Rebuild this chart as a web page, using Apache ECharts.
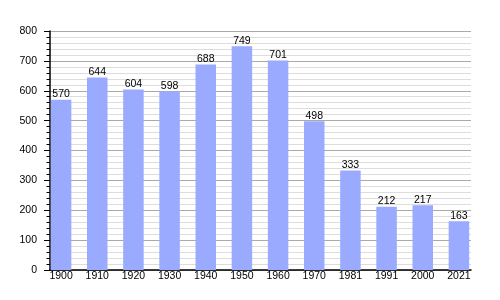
<!DOCTYPE html>
<html><head><meta charset="utf-8">
<script src="https://cdn.jsdelivr.net/npm/echarts@6/dist/echarts.min.js"></script>
<style>html,body{margin:0;padding:0;background:#fff}#c{width:500px;height:300px}</style>
</head><body><div id="c"></div>
<script>
var years = ['1900','1910','1920','1930','1940','1950','1960','1970','1981','1991','2000','2021'];
var population = [570,644,604,598,688,749,701,498,333,212,217,163];
var font = 'Liberation Sans, Arial, sans-serif';
var chart = echarts.init(document.getElementById('c'), null, {renderer:'canvas'});
chart.setOption({
  animation:false,
  grid:[
    {left:50,right:29,top:31,bottom:30,containLabel:false},
    {left:43,right:23,top:31,bottom:30,containLabel:false}
  ],
  xAxis:[
    {gridIndex:0,type:'value',min:0,max:1,
      axisLine:{show:true,onZero:false,lineStyle:{color:'#000',width:1.5}},
      axisTick:{show:false},axisLabel:{show:false},splitLine:{show:false}},
    {gridIndex:1,type:'category',data:years,
      axisLine:{show:false},axisTick:{show:false},
      axisLabel:{color:'#000',fontFamily:font,fontSize:10.5,margin:1}}
  ],
  yAxis:[
    {gridIndex:0,type:'value',min:0,max:800,interval:100,
      axisLine:{show:true,lineStyle:{color:'#000',width:1.5}},
      axisTick:{show:true,length:6,lineStyle:{color:'#000'}},
      minorTick:{show:true,splitNumber:5,length:3.5,lineStyle:{color:'#000'}},
      axisLabel:{color:'#000',fontFamily:font,fontSize:10.5,margin:13},
      splitLine:{lineStyle:{color:'#aaa'}},
      minorSplitLine:{show:true,lineStyle:{color:'#ddd'}}},
    {gridIndex:1,type:'value',min:0,max:800,interval:100,show:false,
      splitLine:{show:false}}
  ],
  series:[{type:'bar',xAxisIndex:1,yAxisIndex:1,data:population,barWidth:20.5,
    itemStyle:{color:'#99aaff'},
    label:{show:true,position:'top',color:'#000',fontFamily:font,fontSize:10.5,distance:0}}]
});
</script></body></html>
